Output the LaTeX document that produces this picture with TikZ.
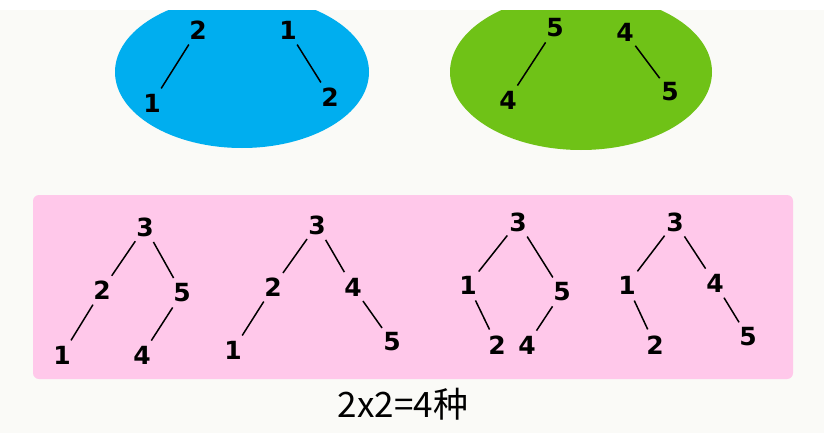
\documentclass[tikz,border=0pt]{standalone}
\usepackage{fontspec}
\setmainfont{DejaVu Sans}
\newfontfamily\cjk{Noto Sans CJK SC}
\definecolor{bgc}{RGB}{250,250,247}
\definecolor{bluec}{RGB}{0,174,239}
\definecolor{greenc}{RGB}{111,194,23}
\definecolor{pinkc}{RGB}{255,200,234}
\begin{document}
\begin{tikzpicture}[x=1pt,y=-1pt,
  dig/.style={circle,inner sep=0pt,minimum size=34pt,font=\fontsize{25}{25}\selectfont\bfseries},
  edge/.style={line width=1.5pt,black}]
\useasboundingbox (0,0) rectangle (824,433);
\fill[bgc] (0,0) rectangle (824,433);
\fill[bluec] (242,72) ellipse [x radius=127pt, y radius=76pt];
\fill[greenc] (581,72) ellipse [x radius=131pt, y radius=78pt];
\fill[white] (0,0) rectangle (824,10);
\fill[pinkc, rounded corners=6pt] (33,195) rectangle (793,379);
% blue pair
\node[dig] (b1r) at (198,30) {2};
\node[dig] (b1c) at (152,103) {1};
\node[dig] (b2r) at (288,30) {1};
\node[dig] (b2c) at (330,97) {2};
\draw[edge] (b1r) -- (b1c);
\draw[edge] (b2r) -- (b2c);
% green pair
\node[dig] (g1r) at (555,28) {5};
\node[dig] (g1c) at (508,100) {4};
\node[dig] (g2r) at (625,32) {4};
\node[dig] (g2c) at (670,92) {5};
\draw[edge] (g1r) -- (g1c);
\draw[edge] (g2r) -- (g2c);
% tree 1
\node[dig] (a3) at (145,227) {3};
\node[dig] (a2) at (102,290) {2};
\node[dig] (a5) at (182,293) {5};
\node[dig] (a1) at (62,355) {1};
\node[dig] (a4) at (142,355) {4};
\draw[edge] (a3) -- (a2);
\draw[edge] (a3) -- (a5);
\draw[edge] (a2) -- (a1);
\draw[edge] (a5) -- (a4);
% tree 2
\node[dig] (c3) at (317,225) {3};
\node[dig] (c2) at (273,287) {2};
\node[dig] (c4) at (353,287) {4};
\node[dig] (c1) at (233,350) {1};
\node[dig] (c5) at (392,342) {5};
\draw[edge] (c3) -- (c2);
\draw[edge] (c3) -- (c4);
\draw[edge] (c2) -- (c1);
\draw[edge] (c4) -- (c5);
% tree 3
\node[dig] (d3) at (518,222) {3};
\node[dig] (d1) at (468,285) {1};
\node[dig] (d5) at (562,292) {5};
\node[dig] (d2) at (497,345) {2};
\node[dig] (d4) at (527,345) {4};
\draw[edge] (d3) -- (d1);
\draw[edge] (d3) -- (d5);
\draw[edge] (d1) -- (d2);
\draw[edge] (d5) -- (d4);
% tree 4
\node[dig] (e3) at (675,222) {3};
\node[dig] (e1) at (627,285) {1};
\node[dig] (e4) at (715,283) {4};
\node[dig] (e2) at (655,345) {2};
\node[dig] (e5) at (748,337) {5};
\draw[edge] (e3) -- (e1);
\draw[edge] (e3) -- (e4);
\draw[edge] (e1) -- (e2);
\draw[edge] (e4) -- (e5);
% caption
\node[font=\cjk\fontsize{35}{35}\selectfont] (eq) at (403,404) {2x2=4种};
\end{tikzpicture}
\end{document}
